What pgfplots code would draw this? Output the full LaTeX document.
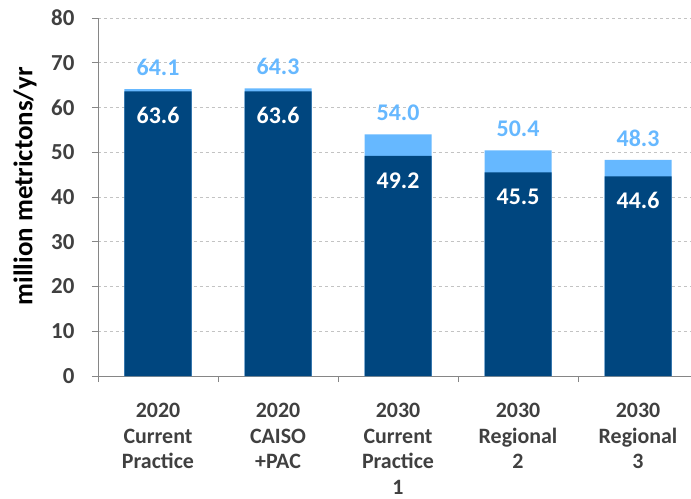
\documentclass[border=0pt]{standalone}
\usepackage{pgfplots}
\pgfplotsset{compat=1.18}
\usepackage{fontspec}
\setmainfont{Carlito}
\definecolor{darkb}{RGB}{0,70,127}
\definecolor{lightb}{RGB}{102,184,255}
\definecolor{txt}{RGB}{64,64,64}
\definecolor{axg}{RGB}{134,134,134}
\definecolor{grd}{RGB}{195,195,195}
\begin{document}
\begin{tikzpicture}
\begin{axis}[
  at={(0,0)}, anchor=south west,
  scale only axis, width=593bp, height=358bp,
  ybar, bar shift=0pt, bar width=67bp,
  xmin=-0.5, xmax=4.4417, ymin=0, ymax=80,
  ytick={0,10,...,80},
  xtick={0,...,4},
  xticklabels={{2020\\Current\\Practice},{2020\\CAISO\\+PAC},{2030\\Current\\Practice\\1},{2030\\Regional\\2},{2030\\Regional\\3}},
  minor xtick={-0.5,0.5,1.5,2.5,3.5},
  axis x line*=bottom, axis y line*=left,
  axis line style={draw=axg, line width=0.8bp},
  tick align=outside,
  major x tick style={draw=none},
  minor x tick style={draw=axg, line width=0.8bp},
  major y tick style={draw=axg, line width=0.8bp},
  major tick length=6bp, minor tick length=6bp,
  ymajorgrids, grid style={dashed, grd, line width=0.6bp},
  /pgf/number format/assume math mode=true,
  yticklabel style={font=\fontsize{23}{27}\selectfont\bfseries, text=txt, xshift=-14bp},
  xticklabel style={font=\fontsize{22}{25.5}\selectfont\bfseries, text=txt, align=center, anchor=north, yshift=-18bp},
  ylabel={million metrictons/yr},
  ylabel style={at={(axis description cs:-0.123,0.53)}, anchor=center, font=\fontsize{27}{31}\selectfont\bfseries, text=black},
  nodes near coords={\pgfmathprintnumber[fixed,fixed zerofill,precision=1,assume math mode=true]{\pgfplotspointmeta}},
]
% totals (light part shows above the dark bar)
\addplot[fill=lightb, draw=none,
  nodes near coords style={font=\fontsize{24}{28}\selectfont\bfseries, text=lightb, anchor=center, yshift=21.5bp}]
  table {
x y
0 64.1
1 64.3
2 54.0
3 50.4
4 48.3
};
% dark part
\addplot[fill=darkb, draw=none,
  nodes near coords style={font=\fontsize{24}{28}\selectfont\bfseries, text=white, anchor=center, yshift=-24.5bp}]
  table {
x y
0 63.6
1 63.6
2 49.2
3 45.5
4 44.6
};
\end{axis}
\pgfresetboundingbox
\path (-98bp,-123bp) rectangle (593bp,376bp);
\end{tikzpicture}
\end{document}
